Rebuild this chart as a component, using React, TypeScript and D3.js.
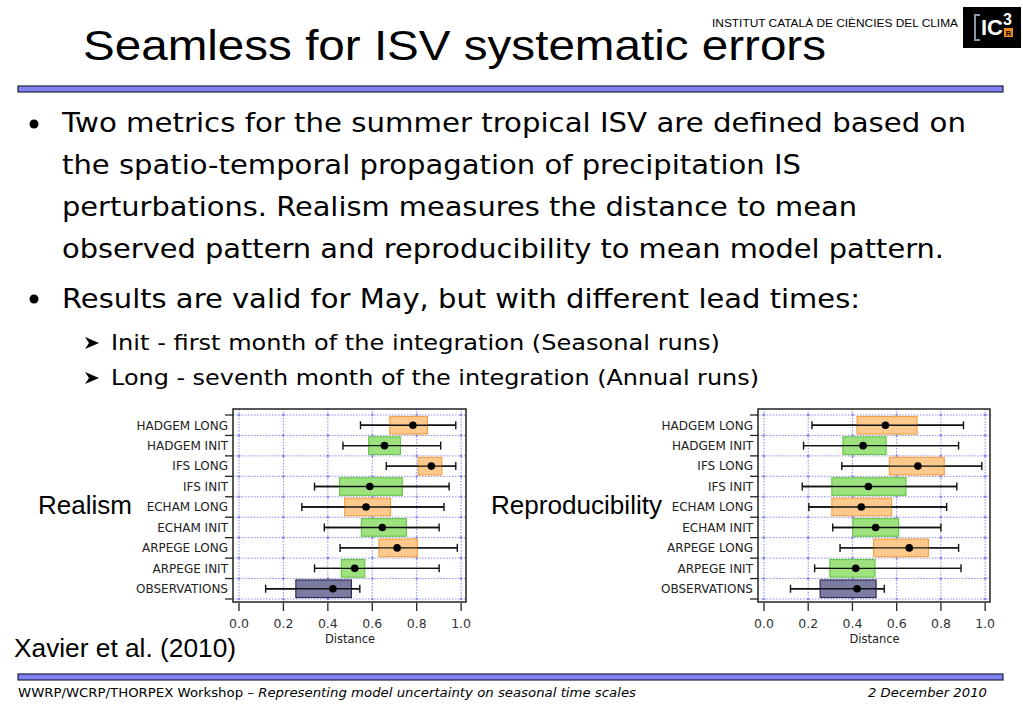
import React from 'react';
import * as d3 from 'd3';

const categories = [
    'HADGEM LONG', 'HADGEM INIT', 'IFS LONG', 'IFS INIT', 'ECHAM LONG',
    'ECHAM INIT', 'ARPEGE LONG', 'ARPEGE INIT', 'OBSERVATIONS',
];
const kinds = ['long', 'init', 'long', 'init', 'long', 'init', 'long', 'init', 'obs'];

// Realism (left panel)
const realismLow = [0.547, 0.468, 0.663, 0.340, 0.283, 0.384, 0.455, 0.340, 0.120];
const realismQ1 = [0.679, 0.584, 0.807, 0.453, 0.476, 0.551, 0.630, 0.461, 0.256];
const realismMed = [0.783, 0.655, 0.866, 0.589, 0.572, 0.645, 0.712, 0.521, 0.423];
const realismQ3 = [0.848, 0.727, 0.913, 0.735, 0.682, 0.753, 0.803, 0.566, 0.506];
const realismHigh = [0.976, 0.908, 0.976, 0.946, 0.923, 0.901, 0.983, 0.901, 0.544];

// Reproducibility (right panel)
const reproLow = [0.217, 0.179, 0.352, 0.173, 0.203, 0.311, 0.344, 0.229, 0.120];
const reproQ1 = [0.421, 0.357, 0.567, 0.307, 0.307, 0.402, 0.496, 0.298, 0.254];
const reproMed = [0.549, 0.448, 0.696, 0.472, 0.440, 0.505, 0.657, 0.415, 0.421];
const reproQ3 = [0.692, 0.552, 0.815, 0.642, 0.577, 0.609, 0.744, 0.502, 0.507];
const reproHigh = [0.902, 0.880, 0.985, 0.872, 0.826, 0.800, 0.880, 0.891, 0.544];

const xTicks = [0, 0.2, 0.4, 0.6, 0.8, 1.0];

const fills: Record<string, string> = { long: '#fdc98c', init: '#9de27e', obs: '#7c7ca2' };
const strokes: Record<string, string> = { long: '#f2a24a', init: '#6cc64e', obs: '#2e2e52' };

interface PanelProps {
    left: number;
    right: number;
    low: number[];
    q1: number[];
    med: number[];
    q3: number[];
    high: number[];
}

const Panel = ({ left, right, low, q1, med, q3, high }: PanelProps) => {
    const top = 409;
    const bottom = 602;
    const x = d3.scaleLinear().domain([-0.027, 1.022]).range([left, right]);
    const y = d3.scaleBand<string>().domain(categories).range([415, 599]).paddingInner(0).paddingOuter(0);
    const bw = y.bandwidth();
    const boxH = bw * 0.86;
    const bounds = d3.range(categories.length + 1).map((i) => 415 + i * bw);
    const grid = '#8a8af0';

    return (
        <g>
            <rect x={left} y={top} width={right - left} height={bottom - top} fill="#fff" />
            {xTicks.map((t) => (
                <line key={'v' + t} x1={x(t)} x2={x(t)} y1={top} y2={bottom}
                    stroke={grid} strokeWidth={1} strokeDasharray="1.5,1.5" />
            ))}
            {bounds.map((b, i) => (
                <line key={'h' + i} x1={left} x2={right} y1={b} y2={b}
                    stroke={grid} strokeWidth={1} strokeDasharray="1.5,1.5" />
            ))}
            {bounds.map((b, i) => xTicks.map((t) => (
                <circle key={'c' + i + t} cx={x(t)} cy={b} r={1.3} fill={grid} />
            )))}
            {categories.map((c, i) => {
                const cy = (y(c) as number) + bw / 2;
                return (
                    <g key={c}>
                        <line x1={x(low[i])} x2={x(high[i])} y1={cy} y2={cy} stroke="#111" strokeWidth={1.4} />
                        <line x1={x(low[i])} x2={x(low[i])} y1={cy - 4} y2={cy + 4} stroke="#111" strokeWidth={1.4} />
                        <line x1={x(high[i])} x2={x(high[i])} y1={cy - 4} y2={cy + 4} stroke="#111" strokeWidth={1.4} />
                        <rect x={x(q1[i])} y={cy - boxH / 2} width={x(q3[i]) - x(q1[i])} height={boxH}
                            fill={fills[kinds[i]]} stroke={strokes[kinds[i]]} strokeWidth={1.2} />
                        <line x1={x(low[i])} x2={x(high[i])} y1={cy} y2={cy} stroke="#111" strokeWidth={1.4} />
                        <circle cx={x(med[i])} cy={cy} r={3.8} fill="#000" />
                        <text x={left - 5} y={cy + 4.3} textAnchor="end" fontSize={12}
                            fontFamily="DejaVu Sans" fill="#222">{c}</text>
                    </g>
                );
            })}
            {bounds.map((b, i) => (
                <line key={'yt' + i} x1={left - 8} x2={left} y1={b} y2={b} stroke="#222" strokeWidth={1.3} />
            ))}
            <rect x={left} y={top} width={right - left} height={bottom - top} fill="none" stroke="#222" strokeWidth={1.5} />
            {xTicks.map((t) => (
                <g key={'xt' + t}>
                    <line x1={x(t)} x2={x(t)} y1={bottom + 1} y2={bottom + 9} stroke="#222" strokeWidth={1.3} />
                    <text x={x(t)} y={628} textAnchor="middle" fontSize={12.5}
                        fontFamily="DejaVu Sans" fill="#333">{d3.format('.1f')(t)}</text>
                </g>
            ))}
            <text x={(x(0) + x(1)) / 2} y={643} textAnchor="middle" fontSize={11.5}
                fontFamily="DejaVu Sans" fill="#222">Distance</text>
        </g>
    );
};

const body = 'DejaVu Sans';

const App = () => {
    return (
        <div style={{ position: 'absolute', left: 0, top: 0 }}>
            <svg width={1023} height={708} style={{ display: 'block', background: '#fff' }}>
                {/* header */}
                <text x={83} y={60} fontSize={42} fontFamily="Liberation Sans" fill="#000"
                    textLength={743} lengthAdjust="spacingAndGlyphs">Seamless for ISV systematic errors</text>
                <text x={712} y={27} fontSize={11} fontFamily="Liberation Sans" fill="#000"
                    textLength={246} lengthAdjust="spacingAndGlyphs">INSTITUT CATALÀ DE CIÈNCIES DEL CLIMA</text>
                <rect x={963} y={7} width={58} height={41} fill="#000" />
                <path d="M980,15 L975,15 L975,40 L980,40" fill="none" stroke="#8a96aa" strokeWidth={2} />
                <text x={981} y={35} fontSize={22} fontWeight="bold" fontFamily="Liberation Sans" fill="#fff"
                    textLength={22} lengthAdjust="spacingAndGlyphs">IC</text>
                <text x={1003} y={25} fontSize={16} fontWeight="bold" fontFamily="Liberation Sans" fill="#fff">3</text>
                <rect x={1004} y={28} width={9} height={9} fill="#f08a1c" />
                <text x={1008.5} y={35.5} fontSize={7.5} fontWeight="bold" textAnchor="middle" fontFamily="Liberation Sans" fill="#000">R</text>
                <rect x={18} y={86} width={985} height={6} fill="#8080f0" stroke="#222244" strokeWidth={1.2} />

                {/* bullets */}
                <circle cx={34} cy={124} r={4.5} fill="#000" />
                <text x={62} y={132} fontSize={27} fontFamily={body} fill="#000" textLength={904} lengthAdjust="spacingAndGlyphs">Two metrics for the summer tropical ISV are defined based on</text>
                <text x={62} y={174} fontSize={27} fontFamily={body} fill="#000" textLength={739} lengthAdjust="spacingAndGlyphs">the spatio-temporal propagation of precipitation IS</text>
                <text x={62} y={216} fontSize={27} fontFamily={body} fill="#000" textLength={795} lengthAdjust="spacingAndGlyphs">perturbations. Realism measures the distance to mean</text>
                <text x={62} y={258} fontSize={27} fontFamily={body} fill="#000" textLength={882} lengthAdjust="spacingAndGlyphs">observed pattern and reproducibility to mean model pattern.</text>
                <circle cx={34} cy={299} r={4.5} fill="#000" />
                <text x={62} y={308} fontSize={27} fontFamily={body} fill="#000" textLength={798} lengthAdjust="spacingAndGlyphs">Results are valid for May, but with different lead times:</text>
                <path d="M85,337 L99,343 L85,349 L89,343 Z" fill="#000" />
                <text x={111} y={350} fontSize={22} fontFamily={body} fill="#000" textLength={609} lengthAdjust="spacingAndGlyphs">Init - first month of the integration (Seasonal runs)</text>
                <path d="M85,372 L99,378 L85,384 L89,378 Z" fill="#000" />
                <text x={111} y={385} fontSize={22} fontFamily={body} fill="#000" textLength={648} lengthAdjust="spacingAndGlyphs">Long - seventh month of the integration (Annual runs)</text>

                {/* panels */}
                <Panel left={233} right={466} low={realismLow} q1={realismQ1} med={realismMed} q3={realismQ3} high={realismHigh} />
                <Panel left={758} right={990} low={reproLow} q1={reproQ1} med={reproMed} q3={reproQ3} high={reproHigh} />

                <text x={38} y={514} fontSize={26} fontFamily="Liberation Sans" fill="#000" textLength={94} lengthAdjust="spacingAndGlyphs">Realism</text>
                <text x={491} y={514} fontSize={26} fontFamily="Liberation Sans" fill="#000" textLength={171} lengthAdjust="spacingAndGlyphs">Reproducibility</text>
                <text x={14} y={657} fontSize={26} fontFamily="Liberation Sans" fill="#000" textLength={222} lengthAdjust="spacingAndGlyphs">Xavier et al. (2010)</text>

                {/* footer */}
                <rect x={18} y={674} width={985} height={6} fill="#8080f0" stroke="#222244" strokeWidth={1.2} />
                <text x={18} y={697} fontSize={13} fontFamily={body} fill="#000" textLength={618} lengthAdjust="spacingAndGlyphs">
                    WWRP/WCRP/THORPEX Workshop – <tspan fontStyle="italic">Representing model uncertainty on seasonal time scales</tspan>
                </text>
                <text x={868} y={697} fontSize={13} fontStyle="italic" fontFamily={body} fill="#000" textLength={119} lengthAdjust="spacingAndGlyphs">2 December 2010</text>
            </svg>
        </div>
    );
};

export default App;
